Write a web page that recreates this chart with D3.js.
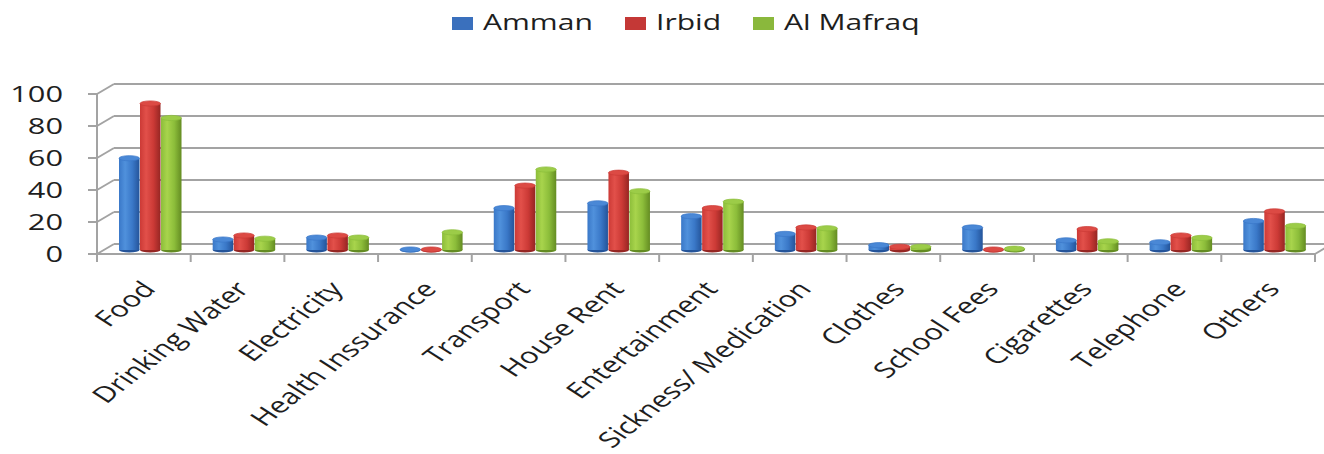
<!DOCTYPE html>
<html>
<head>
<meta charset="utf-8">
<script src="https://cdn.jsdelivr.net/npm/d3@7"></script>
<style>
  body { margin: 0; background: #fff; }
  svg { display: block; }
  text { font-family: "Open Sans", sans-serif; fill: #1e1e1e; }
</style>
</head>
<body>
<div id="chart"></div>
<script>
// chart data
const categories = ["Food", "Drinking Water", "Electricity", "Health Inssurance", "Transport",
  "House Rent", "Entertainment", "Sickness/ Medication", "Clothes", "School Fees",
  "Cigarettes", "Telephone", "Others"];
const seriesNames = ["Amman", "Irbid", "Al Mafraq"];
const amman  = [57, 6.5, 7.7, 0.3, 26, 29, 21, 10, 3, 14, 6, 4.8, 18];
const irbid  = [91, 9, 9, 0.3, 40, 48, 26, 14, 2, 0.3, 13, 9, 24];
const mafraq = [82, 7, 7.7, 11, 50, 36.5, 30, 13.5, 2, 0.8, 5.4, 7.5, 15];
const yTicks = [0, 20, 40, 60, 80, 100];

function buildChart() {
  const width = 1324;
  const height = 454;
  // the original picture is stretched sideways, so draw in a narrower box and stretch it
  const SX = 1.4;
  const px = (v) => v / SX;

  const front = { left: 97, right: 1315, bottom: 254, top: 94 };
  const depth = { dx: 17, dy: -10 };

  const colors = [
    { dark: "#24549a", mid: "#3a78c8", light: "#5091dc", top: "#4a88d6", key: "#3a70bd" },
    { dark: "#962623", mid: "#cc3a36", light: "#e2504a", top: "#dc4a44", key: "#c43836" },
    { dark: "#648c22", mid: "#8cbd3a", light: "#a8d44c", top: "#9ccc48", key: "#8ab83c" }
  ];
  const values = [amman, irbid, mafraq];
  const data = categories.map((c, i) => ({
    category: c,
    vals: seriesNames.map((s, j) => ({ series: s, idx: j, value: values[j][i] }))
  }));

  const svg = d3.select("#chart")
    .append("svg")
    .attr("width", width)
    .attr("height", height)
    .attr("viewBox", `0 0 ${px(width)} ${height}`)
    .attr("preserveAspectRatio", "none");

  // gradients for the cylinders
  const defs = svg.append("defs");
  colors.forEach((c, i) => {
    const g = defs.append("linearGradient").attr("id", "grad" + i)
      .attr("x1", "0%").attr("x2", "100%").attr("y1", "0%").attr("y2", "0%");
    g.append("stop").attr("offset", "0%").attr("stop-color", c.mid);
    g.append("stop").attr("offset", "30%").attr("stop-color", c.light);
    g.append("stop").attr("offset", "65%").attr("stop-color", c.mid);
    g.append("stop").attr("offset", "100%").attr("stop-color", c.dark);
  });

  // scales
  const yFront = d3.scaleLinear().domain([0, 100]).range([front.bottom, front.top]);
  const yBar = d3.scaleLinear().domain([0, 100]).range([250, 89]);
  const xScale = d3.scaleBand().domain(categories).range([px(front.left), px(front.right)]);
  const xInner = d3.scaleBand().domain(seriesNames).range([px(22), px(85)]);

  const gridColor = "#a3a3a3";
  const line = (x1, y1, x2, y2, w) => svg.append("line")
    .attr("x1", px(x1)).attr("y1", y1).attr("x2", px(x2)).attr("y2", y2)
    .attr("stroke", gridColor).attr("stroke-width", w || 2)
    .attr("vector-effect", "non-scaling-stroke");

  // back wall gridlines and the diagonals to the front axis
  yTicks.forEach((t) => {
    const y = yFront(t);
    line(front.left + depth.dx, y + depth.dy, 1340, y + depth.dy);
    line(front.left, y, front.left + depth.dx, y + depth.dy);
    line(front.left - 9, y, front.left, y);
  });
  // floor front edge, left axis, right end
  line(front.left, front.bottom, front.right, front.bottom);
  line(front.left, front.top, front.left, front.bottom);
  line(front.right, front.bottom, front.right + depth.dx, front.bottom + depth.dy);

  // category ticks
  categories.concat([null]).forEach((c) => {
    const x = c ? xScale(c) * SX : front.right;
    line(x, front.bottom, x, front.bottom + 8);
  });

  // y labels
  svg.append("g").selectAll("text")
    .data(yTicks)
    .join("text")
    .attr("x", px(63))
    .attr("y", (d) => yFront(d))
    .attr("dy", "0.35em")
    .attr("text-anchor", "end")
    .style("font-size", "22px")
    .text((d) => d);

  // cylinders
  const bw = xInner.bandwidth() - px(0.5);
  const ry = 2.6;
  const groups = svg.append("g").selectAll("g")
    .data(data)
    .join("g")
    .attr("transform", (d) => `translate(${xScale(d.category)},0)`);

  const bars = groups.selectAll("g")
    .data((d) => d.vals)
    .join("g")
    .attr("transform", (d) => `translate(${xInner(d.series)},0)`);

  bars.append("ellipse")
    .attr("cx", bw / 2).attr("cy", yBar(0))
    .attr("rx", bw / 2).attr("ry", ry)
    .attr("fill", (d) => colors[d.idx].dark);
  bars.append("rect")
    .attr("x", 0).attr("width", bw)
    .attr("y", (d) => yBar(d.value))
    .attr("height", (d) => yBar(0) - yBar(d.value))
    .attr("fill", (d) => `url(#grad${d.idx})`);
  bars.append("ellipse")
    .attr("cx", bw / 2).attr("cy", (d) => yBar(d.value))
    .attr("rx", bw / 2).attr("ry", ry)
    .attr("fill", (d) => colors[d.idx].top)
    .attr("stroke", (d) => colors[d.idx].mid)
    .attr("stroke-width", 0.6);

  // category labels, rotated
  svg.append("g").selectAll("text")
    .data(categories)
    .join("text")
    .attr("text-anchor", "end")
    .attr("transform", (d) => `translate(${xScale(d) + xScale.bandwidth() / 2 + px(13)},290) rotate(-48)`)
    .style("font-size", "22px")
    .text((d) => d);

  // legend
  const legendX = [452, 625, 753];
  const legend = svg.append("g").selectAll("g")
    .data(seriesNames)
    .join("g")
    .attr("transform", (d, i) => `translate(${px(legendX[i])},0)`);
  legend.append("rect")
    .attr("x", 0).attr("y", 17)
    .attr("width", px(21)).attr("height", 13)
    .attr("fill", (d, i) => colors[i].key);
  legend.append("text")
    .attr("x", px(31)).attr("y", 30)
    .style("font-size", "21.5px")
    .text((d) => d);
}

window.onload = buildChart;
</script>
</body>
</html>
